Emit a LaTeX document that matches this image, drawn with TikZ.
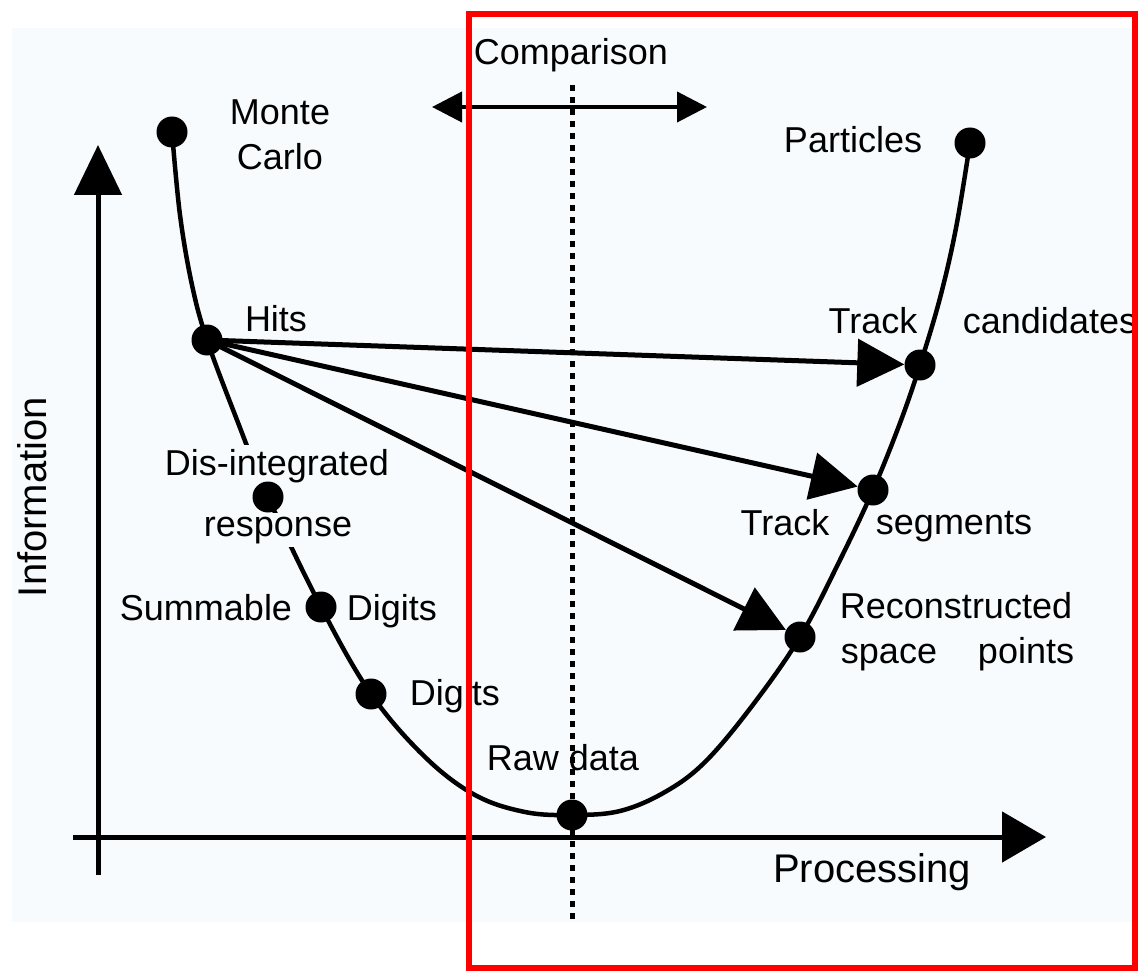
\documentclass[tikz,border=0pt]{standalone}
\usepackage{fontspec}
\setmainfont{Liberation Sans}
\usetikzlibrary{arrows.meta}
\definecolor{bgc}{RGB}{247,251,253}
\definecolor{redbox}{RGB}{255,0,0}
\begin{document}
\begin{tikzpicture}[x=1pt,y=-1pt,
  dot/.style={circle,fill=black,inner sep=0pt,minimum size=31pt},
  lbl/.style={inner sep=0pt,anchor=base,font=\fontsize{36}{40}\selectfont},
  biglbl/.style={inner sep=0pt,font=\fontsize{40}{44}\selectfont},
  curve/.style={line width=4.5pt},
  hitarrow/.style={line width=5pt,-{Triangle[length=47pt,width=47pt]}},
  axis/.style={line width=5pt}]
\useasboundingbox (0,0) rectangle (1139,973);
\fill[bgc] (12,28) rectangle (1132,922);
% axes
\coordinate (ybot) at (98,875);
\coordinate (ytop) at (98,145);
\coordinate (xl) at (73,837);
\coordinate (xr) at (1046,837);
\draw[axis,-{Triangle[length=50pt,width=47pt]}] (ybot) -- (ytop);
\draw[axis,-{Triangle[length=44pt,width=50pt]}] (xl) -- (xr);
% curve
\draw[curve] plot[smooth,tension=0.6] coordinates {(172,132) (180,215) (192,285) (207,340) (237,420) (268,497) (321,607) (371,694) (425,757) (475,795) (525,812) (572,815) (620,811) (665,792) (705,762) (752,706) (800,637) (840,560) (873,490) (900,423) (920,365) (940,298) (956,228) (970,143)};
% dotted line
\coordinate (dtop) at (572,85);
\coordinate (dbot) at (572,923);
\draw[line width=5pt,dash pattern=on 6pt off 6pt] (dtop) -- (dbot);
% comparison arrow
\coordinate (cl) at (432,107);
\coordinate (cr) at (707,107);
\draw[line width=4pt,{Triangle[length=30pt,width=30pt]}-{Triangle[length=30pt,width=30pt]}] (cl) -- (cr);
\node[lbl] (comp) at (571,65) {Comparison};
% labels that mask the curve
\node[lbl,fill=bgc,inner ysep=4pt] (di1) at (277,475) {Dis-integrated};
\node[lbl,fill=bgc,inner ysep=4pt] (di2) at (278,536) {response};
% dots
\node[dot] (mc) at (172,132) {};
\node[dot] (hits) at (207,340) {};
\node[dot] (di) at (268,497) {};
\node[dot] (sd) at (321,607) {};
\node[dot] (dg) at (371,694) {};
\node[dot] (raw) at (572,815) {};
\node[dot] (rsp) at (800,637) {};
\node[dot] (ts) at (873,490) {};
\node[dot] (tc) at (920,365) {};
\node[dot] (part) at (970,143) {};
% hit arrows
\draw[hitarrow] (hits.center) -- (tc);
\draw[hitarrow] (hits.center) -- (ts);
\draw[hitarrow] (hits.center) -- (rsp);
% labels
\node[lbl] (mc1) at (280,125) {Monte};
\node[lbl] (mc2) at (280,170) {Carlo};
\node[lbl] (partlbl) at (853,153) {Particles};
\node[lbl] (hitslbl) at (276,331) {Hits};
\node[lbl] (tc1) at (873,333) {Track};
\node[lbl] (tc2) at (1050,333) {candidates};
\node[lbl] (sd1) at (206,620) {Summable};
\node[lbl] (sd2) at (392,620) {Digits};
\node[lbl] (dglbl) at (455,705) {Digits};
\node[lbl] (rawlbl) at (563,770) {Raw data};
\node[lbl] (ts1) at (785,535) {Track};
\node[lbl] (ts2) at (954,534) {segments};
\node[lbl] (rsp1) at (956,618) {Reconstructed};
\node[lbl] (rsp2) at (889,663) {space};
\node[lbl] (rsp3) at (1026,663) {points};
\node[biglbl] (proc) at (872,872) {Processing};
\node[biglbl,rotate=90] (info) at (32,497) {Information};
% red box
\draw[redbox,line width=6pt] (469,14) rectangle (1135,968);
\end{tikzpicture}
\end{document}
